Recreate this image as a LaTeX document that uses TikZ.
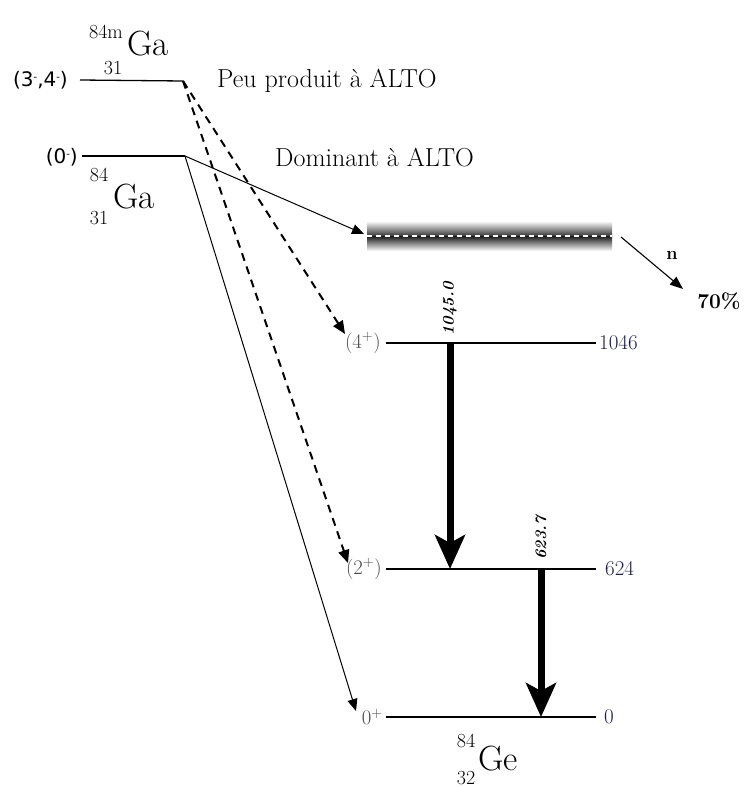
\documentclass[tikz,border=0pt]{standalone}
\usepackage{fontspec}
\newfontfamily\sansf{DejaVu Sans}
\usetikzlibrary{arrows.meta}
\definecolor{navy}{rgb}{0.12,0.12,0.30}
\newcommand{\fs}[1]{\fontsize{#1}{#1}\selectfont}
\newcommand{\smin}{\raisebox{0.55ex}{\fs{10}-}}
\begin{document}
\begin{tikzpicture}[x=1pt,y=-1pt,
  lvl/.style={line width=1.3pt},
  thinarr/.style={line width=1pt,-{Triangle[length=12pt,width=10pt]}},
  dasharr/.style={line width=2pt,dash pattern=on 8pt off 6pt,-{Triangle[length=13pt,width=11pt]}},
  nearr/.style={line width=1.1pt,-{Triangle[length=13pt,width=10pt]}},
  gam/.style={line width=7pt,-{Stealth[length=34pt,width=30pt,inset=8pt]}},
  lab/.style={inner sep=0pt,font=\fs{21}},
  leftlab/.style={lab,anchor=east,text=black!70},
  rightlab/.style={lab,anchor=west,text=navy},
  sans/.style={inner sep=0pt,font=\sansf\fs{20}},
  txt/.style={inner sep=0pt,anchor=west,font=\fs{26}},
  elem/.style={inner sep=0pt,font=\fs{35}},
  num/.style={inner sep=0pt,font=\fs{20}},
  glab/.style={inner sep=0pt,rotate=90,font=\bfseries\itshape\fs{16}}]
\useasboundingbox (0,0) rectangle (745,787);

% parent levels
\coordinate (m1) at (80,80);  \coordinate (m2) at (183,81);
\coordinate (g1) at (82,156); \coordinate (g2) at (185,156);
\draw[lvl] (m1) -- (m2);
\draw[lvl] (g1) -- (g2);
\node[sans,anchor=east] (mlab) at (68,80) {(3\smin,4\smin)};
\node[sans,anchor=east] (glab) at (78,157) {(0\smin)};

% 84mGa
\node[num] (m84) at (106,32) {84m};
\node[elem] (mGa) at (148,44) {Ga};
\node[num] (m31) at (113,68) {31};
% 84Ga
\node[num] (g84) at (99,175) {84};
\node[elem] (gGa) at (134,197) {Ga};
\node[num] (g31) at (99,218) {31};

\node[txt] (peu) at (217,81) {Peu produit à ALTO};
\node[txt] (dom) at (275,158) {Dominant à ALTO};

% unbound band
\shade[top color=white,bottom color=black!80] (367,221) rectangle (612,236);
\shade[top color=black!90,bottom color=white] (367,236) rectangle (612,251);
\draw[white,line width=1.2pt,dash pattern=on 5pt off 4pt] (367,236) -- (612,236);
\coordinate (bandL) at (364,234);
\coordinate (bandR) at (621,237);
\coordinate (nend) at (683,289);
\draw[nearr] (bandR) -- (nend);
\node[inner sep=0pt,font=\bfseries\fs{18}] (n) at (672,255) {n};
\node[inner sep=0pt,font=\bfseries\fs{21}] (pct) at (719,301) {70\%};

% daughter levels
\coordinate (a4) at (386,343); \coordinate (b4) at (596,343);
\coordinate (a2) at (386,569); \coordinate (b2) at (596,569);
\coordinate (a0) at (386,717); \coordinate (b0) at (596,717);
\draw[lvl] (a4) -- (b4);
\draw[lvl] (a2) -- (b2);
\draw[lvl] (a0) -- (b0);
\node[leftlab] (l4) at (381,343) {$(4^+)$};
\node[leftlab] (l2) at (382,569) {$(2^+)$};
\node[leftlab] (l0) at (383,717) {$0^+$};
\node[rightlab] (r4) at (599,343) {1046};
\node[rightlab] (r2) at (605,569) {624};
\node[rightlab] (r0) at (604,717) {0};

% 84Ge
\node[num] (e84) at (466,741) {84};
\node[elem] (eGe) at (498,759) {Ge};
\node[num] (e32) at (466,778) {32};

% beta feeding
\coordinate (t4) at (345,334);
\coordinate (t2) at (348,563);
\coordinate (t0) at (356,711);
\draw[thinarr] (g2) -- (bandL);
\draw[thinarr] (g2) -- (t0);
\draw[dasharr] (m2) -- (t4);
\draw[dasharr] (m2) -- (t2);

% gamma transitions
\coordinate (s1) at (450,343); \coordinate (e1) at (450,569);
\coordinate (s2) at (541,569); \coordinate (e2) at (541,717);
\draw[gam] (s1) -- (e1);
\draw[gam] (s2) -- (e2);
\node[glab] (gl1) at (450,309) {1045.0};
\node[glab] (gl2) at (541,538) {623.7};
\end{tikzpicture}
\end{document}
